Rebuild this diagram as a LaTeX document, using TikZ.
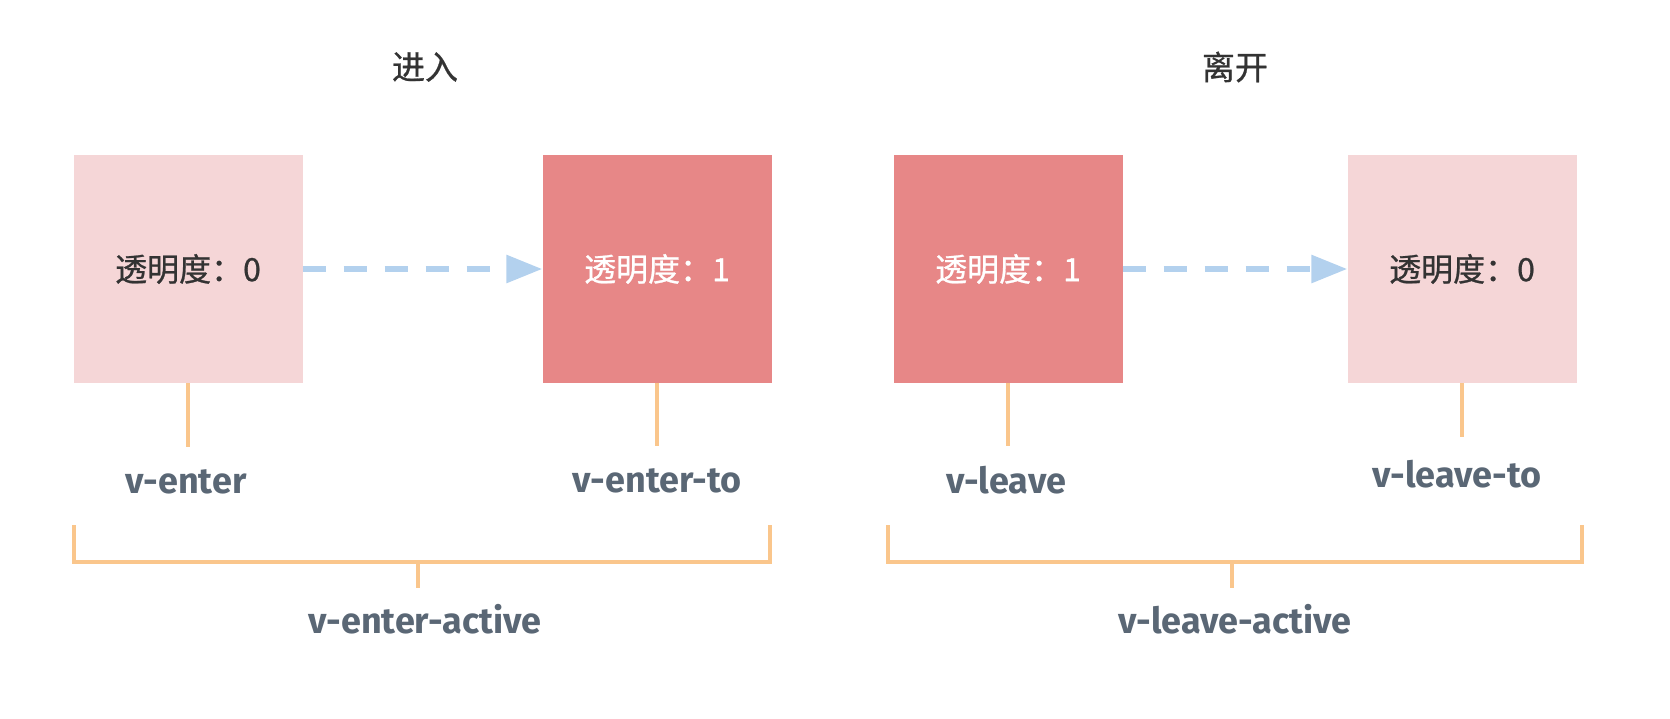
\documentclass[tikz,border=0pt]{standalone}
\usepackage{fontspec}
\newfontfamily\cjk{Noto Sans CJK SC}[FakeBold=0.8]
\newfontfamily\labelfont{Fira Sans}
\usetikzlibrary{arrows.meta}
\definecolor{boxlight}{HTML}{F5D6D7}
\definecolor{boxdark}{HTML}{E78787}
\definecolor{lineorange}{HTML}{FAC68C}
\definecolor{arrowblue}{HTML}{B3D1EE}
\definecolor{labelgray}{HTML}{5A6775}
\definecolor{textdark}{HTML}{333333}
\tikzset{
    lightbox/.style={fill=boxlight,minimum width=229pt,minimum height=228pt,inner sep=0pt,text=textdark,font=\cjk\fontsize{32pt}{32pt}\selectfont},
    darkbox/.style={lightbox,fill=boxdark,text=white},
    classlabel/.style={anchor=base,inner sep=0pt,text=labelgray,font=\labelfont\bfseries\fontsize{36pt}{36pt}\selectfont},
    titlelabel/.style={inner sep=0pt,text=textdark,font=\cjk\fontsize{33pt}{33pt}\selectfont},
    orangeline/.style={draw=lineorange,line width=4.5pt},
    fadearrow/.style={draw=arrowblue,line width=6pt,dash pattern=on 23pt off 18pt,-{Triangle[length=36pt,width=27pt]}}
}
\begin{document}
\begin{tikzpicture}[x=1pt,y=-1pt]
    \useasboundingbox (0,0) rectangle (1670,718);
    \node[titlelabel] (entertitle) at (425,67) {进入};
    \node[titlelabel] (leavetitle) at (1235,67) {离开};
    \node[lightbox] (enter) at (188,269) {透明度：0};
    \node[darkbox] (enterto) at (657,269) {透明度：1};
    \node[darkbox] (leave) at (1008,269) {透明度：1};
    \node[lightbox] (leaveto) at (1462,269) {透明度：0};
    \draw[fadearrow] (enter) -- (enterto);
    \draw[fadearrow] (leave) -- (leaveto);
    \node[classlabel] (enterlbl) at (186,493) {v-enter};
    \node[classlabel] (entertolbl) at (657,492) {v-enter-to};
    \node[classlabel] (leavelbl) at (1006,493) {v-leave};
    \node[classlabel] (leavetolbl) at (1457,487) {v-leave-to};
    \draw[orangeline,shorten >=22pt] (enter.south) -- (enter.south |- enterlbl.north);
    \draw[orangeline,shorten >=22pt] (enterto.south) -- (enterto.south |- entertolbl.north);
    \draw[orangeline,shorten >=19pt] (leave.south) -- (leave.south |- leavelbl.north);
    \draw[orangeline,shorten >=22pt] (leaveto.south) -- (leaveto.south |- leavetolbl.north);
    \coordinate (enterleft) at (74,525);
    \coordinate (enterright) at (770,525);
    \coordinate (entermid) at (418,562);
    \coordinate (leaveleft) at (888,525);
    \coordinate (leaveright) at (1582,525);
    \coordinate (leavemid) at (1232,562);
    \draw[orangeline] (enterleft) -- ++(0,37) -| (enterright);
    \draw[orangeline] (leaveleft) -- ++(0,37) -| (leaveright);
    \node[classlabel] (enteractive) at (425,633) {v-enter-active};
    \node[classlabel] (leaveactive) at (1235,633) {v-leave-active};
    \draw[orangeline,shorten >=16pt] (entermid) -- (entermid |- enteractive.north);
    \draw[orangeline,shorten >=16pt] (leavemid) -- (leavemid |- leaveactive.north);
\end{tikzpicture}
\end{document}
